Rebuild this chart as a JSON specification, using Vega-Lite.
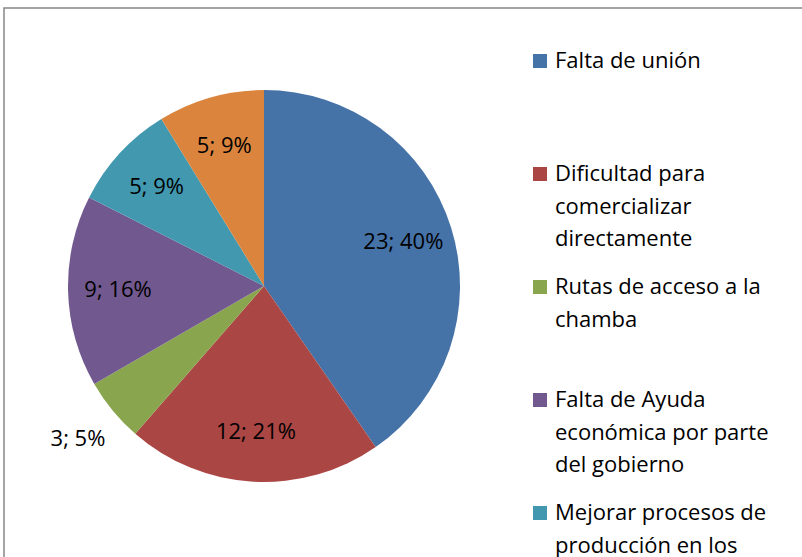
{
  "$schema": "https://vega.github.io/schema/vega-lite/v6.json",
  "width": 802,
  "height": 553,
  "autosize": {"type": "none"},
  "padding": {"left": 4, "top": 8, "right": -4, "bottom": -4},
  "background": "white",
  "view": {"stroke": "#868686", "strokeWidth": 1.5, "fill": "white"},
  "config": {
    "view": {"stroke": "#868686", "strokeWidth": 1.5},
    "font": "Open Sans",
    "style": {"guide-label": {"lineHeight": 32.5}}
  },
  "data": {
    "values": [
      {"categoria": "Falta de unión", "valor": 23, "orden": 1},
      {"categoria": "Dificultad para comercializar directamente", "valor": 12, "orden": 2},
      {"categoria": "Rutas de acceso a la chamba", "valor": 3, "orden": 3},
      {"categoria": "Falta de Ayuda económica por parte del gobierno", "valor": 9, "orden": 4},
      {"categoria": "Mejorar procesos de producción en los productos", "valor": 5, "orden": 5},
      {"categoria": "Otros", "valor": 5, "orden": 6}
    ]
  },
  "transform": [
    {"joinaggregate": [{"op": "sum", "field": "valor", "as": "total"}]},
    {"calculate": "datum.valor + '; ' + format(datum.valor / datum.total, '.0%')", "as": "etiqueta"}
  ],
  "layer": [
    {
      "mark": {"type": "arc", "x": 260, "y": 278, "outerRadius": 196, "stroke": null},
      "encoding": {
        "theta": {"field": "valor", "type": "quantitative", "stack": true},
        "order": {"field": "orden", "type": "quantitative"},
        "color": {
          "field": "categoria",
          "type": "nominal",
          "sort": null,
          "scale": {
            "domain": ["Falta de unión", "Dificultad para comercializar directamente", "Rutas de acceso a la chamba", "Falta de Ayuda económica por parte del gobierno", "Mejorar procesos de producción en los productos", "Otros"],
            "range": ["#4572A7", "#AA4643", "#89A54E", "#71588F", "#4198AF", "#DB843D"]
          },
          "legend": {
            "title": null,
            "orient": "none",
            "legendX": 525,
            "legendY": 42,
            "symbolType": "square",
            "symbolSize": 196,
            "symbolStrokeWidth": 0,
            "labelFont": "Open Sans",
            "labelFontSize": 22,
            "labelColor": "black",
            "labelLimit": 400,
            "labelOffset": 4,
            "labelBaseline": "middle",
            "rowPadding": 26,
            "encode": {"labels": {"update": {"lineHeight": {"value": 32.5}}}},
            "labelExpr": "datum.label == 'Falta de unión' ? ['Falta de unión', '', ''] : datum.label == 'Dificultad para comercializar directamente' ? ['Dificultad para', 'comercializar', 'directamente'] : datum.label == 'Rutas de acceso a la chamba' ? ['Rutas de acceso a la', 'chamba', ''] : datum.label == 'Falta de Ayuda económica por parte del gobierno' ? ['Falta de Ayuda', 'económica por parte', 'del gobierno'] : datum.label == 'Mejorar procesos de producción en los productos' ? ['Mejorar procesos de', 'producción en los', 'productos'] : [datum.label, '', '']"
          }
        }
      }
    },
    {
      "mark": {"type": "text", "x": 260, "y": 278, "radius": 146, "font": "Open Sans", "fontSize": 22, "color": "black"},
      "encoding": {
        "theta": {"field": "valor", "type": "quantitative", "stack": true},
        "order": {"field": "orden", "type": "quantitative"},
        "detail": {"field": "categoria", "type": "nominal"},
        "text": {"condition": {"test": "datum.valor > 3", "field": "etiqueta"}, "value": ""}
      }
    },
    {
      "mark": {"type": "text", "x": 260, "y": 278, "radius": 241, "font": "Open Sans", "fontSize": 22, "color": "black"},
      "encoding": {
        "theta": {"field": "valor", "type": "quantitative", "stack": true},
        "order": {"field": "orden", "type": "quantitative"},
        "detail": {"field": "categoria", "type": "nominal"},
        "text": {"condition": {"test": "datum.valor <= 3", "field": "etiqueta"}, "value": ""}
      }
    }
  ]
}
